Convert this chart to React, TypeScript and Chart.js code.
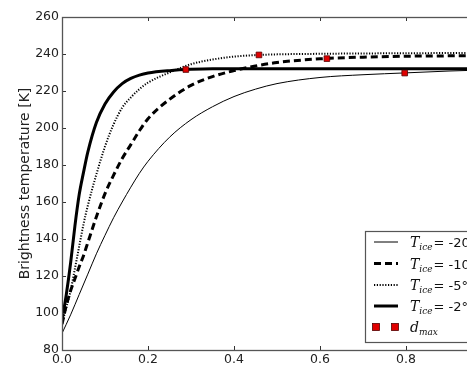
import React, { useEffect, useRef } from "react";
import { Chart, registerables } from "chart.js";
Chart.register(...registerables);

// T_ice = -20 °C (thin solid)
const thinX = [0, 0.02, 0.04, 0.06, 0.08, 0.1, 0.12, 0.14, 0.16, 0.18, 0.2, 0.25, 0.3, 0.35, 0.4, 0.45, 0.5, 0.6, 0.7, 0.8, 0.9, 1.0];
const thinY = [89, 99, 110, 121, 132, 142, 151.5, 160, 168, 175.5, 182, 195, 204.5, 211.5, 217, 221, 224, 227.3, 228.8, 229.8, 230.8, 231.5];
// T_ice = -10 °C (dashed)
const dashedX = [0, 0.01, 0.02, 0.03, 0.04, 0.05, 0.06, 0.08, 0.1, 0.12, 0.14, 0.16, 0.18, 0.2, 0.25, 0.3, 0.35, 0.4, 0.45, 0.5, 0.6, 0.7, 0.8, 0.9, 1.0];
const dashedY = [94, 104, 112, 118.5, 125, 131, 138, 152, 164.5, 174.5, 183.5, 191, 198.5, 205, 215.5, 223, 227.8, 231, 233.5, 235.4, 237.4, 238.3, 238.8, 239, 239.2];
// T_ice = -5 °C (dotted)
const dottedX = [0, 0.01, 0.02, 0.03, 0.04, 0.05, 0.06, 0.08, 0.1, 0.12, 0.14, 0.16, 0.18, 0.2, 0.25, 0.3, 0.35, 0.4, 0.45, 0.5, 0.6, 0.7, 0.8, 0.9, 1.0];
const dottedY = [94, 103, 112, 124, 136, 148, 158, 175, 190, 202, 211, 216.5, 221, 224.5, 230, 234.5, 237, 238.6, 239.4, 239.8, 240.1, 240.3, 240.4, 240.5, 240.5];
// T_ice = -2 °C (thick solid)
const thickX = [0, 0.01, 0.02, 0.03, 0.04, 0.05, 0.06, 0.08, 0.1, 0.12, 0.14, 0.16, 0.18, 0.2, 0.25, 0.3, 0.35, 0.4, 0.5, 0.6, 0.7, 0.8, 0.9, 1.0];
const thickY = [96, 110, 127, 147, 164, 176, 187, 203, 213, 219.5, 224, 226.8, 228.6, 229.7, 231, 231.7, 232, 232, 232, 232, 232, 232, 232, 232];
// d_max markers
const dmaxX = [0.288, 0.458, 0.616, 0.797];
const dmaxY = [231.6, 239.5, 237.5, 229.7];

const tempLabels = ["-20", "-10", "-5", "-2"];
const yTicks = [80, 100, 120, 140, 160, 180, 200, 220, 240, 260];
const xTicks = [0, 0.2, 0.4, 0.6, 0.8, 1.0];

const pts = (xs: number[], ys: number[]) => xs.map((x, i) => ({ x, y: ys[i] }));

const lineStyles = [
  { width: 1, dash: [] as number[] },
  { width: 3, dash: [7, 4] },
  { width: 2, dash: [1.2, 1.6] },
  { width: 3, dash: [] as number[] },
];

const framePlugin = {
  id: "frame",
  afterDatasetsDraw(chart: any) {
    const { ctx, chartArea: a, scales } = chart;
    ctx.save();
    ctx.strokeStyle = "#333";
    ctx.lineWidth = 1;
    const tl = 4;
    ctx.beginPath();
    for (const v of xTicks) {
      const px = Math.round(scales.x.getPixelForValue(v)) + 0.5;
      ctx.moveTo(px, a.bottom);
      ctx.lineTo(px, a.bottom - tl);
      ctx.moveTo(px, a.top);
      ctx.lineTo(px, a.top + tl);
    }
    for (const v of yTicks) {
      const py = Math.round(scales.y.getPixelForValue(v)) + 0.5;
      ctx.moveTo(a.left, py);
      ctx.lineTo(a.left + tl, py);
      ctx.moveTo(a.right, py);
      ctx.lineTo(a.right - tl, py);
    }
    ctx.stroke();
    ctx.strokeStyle = "#555";
    ctx.lineWidth = 1.3;
    ctx.strokeRect(Math.round(a.left) + 0.5, Math.round(a.top) + 0.5, Math.round(a.right - a.left), Math.round(a.bottom - a.top));
    ctx.restore();
  },
  afterDraw(chart: any) {
    const { ctx } = chart;
    const bx = 365, by = 231, bw = 200, bh = 111;
    ctx.save();
    ctx.fillStyle = "#fff";
    ctx.fillRect(bx, by, bw, bh);
    ctx.strokeStyle = "#555";
    ctx.lineWidth = 1.2;
    ctx.strokeRect(bx + 0.5, by + 0.5, bw, bh);
    const rowY = [242, 263.5, 285, 306, 327];
    ctx.textBaseline = "alphabetic";
    ctx.fillStyle = "#111";
    for (let i = 0; i < 4; i++) {
      const y = rowY[i];
      const st = lineStyles[i];
      ctx.beginPath();
      ctx.strokeStyle = "#000";
      ctx.lineWidth = st.width;
      ctx.setLineDash(st.dash);
      ctx.moveTo(374, y);
      ctx.lineTo(398, y);
      ctx.stroke();
      ctx.setLineDash([]);
      let tx = 410;
      ctx.font = "italic 14px 'DejaVu Serif'";
      ctx.fillText("T", tx, y + 5);
      tx += ctx.measureText("T").width;
      ctx.font = "italic 9px 'DejaVu Serif'";
      ctx.fillText("ice", tx, y + 8);
      tx += ctx.measureText("ice").width + 1;
      ctx.font = "13px 'DejaVu Sans'";
      ctx.fillText("= " + tempLabels[i] + "°C", tx, y + 5);
    }
    const y5 = rowY[4];
    for (const mx of [376, 395]) {
      ctx.fillStyle = "#e00000";
      ctx.fillRect(mx - 3.5, y5 - 3.5, 7, 7);
      ctx.strokeStyle = "#500";
      ctx.lineWidth = 0.8;
      ctx.strokeRect(mx - 3.5, y5 - 3.5, 7, 7);
    }
    ctx.fillStyle = "#111";
    let tx = 410;
    ctx.font = "italic 14px 'DejaVu Serif'";
    ctx.fillText("d", tx, y5 + 5);
    tx += ctx.measureText("d").width;
    ctx.font = "italic 9px 'DejaVu Serif'";
    ctx.fillText("max", tx, y5 + 8);
    ctx.restore();
  },
};

export default function App() {
  const ref = useRef<HTMLCanvasElement | null>(null);
  useEffect(() => {
    if (!ref.current) return;
    const mk = (label: string, xs: number[], ys: number[], i: number) => ({
      label,
      data: pts(xs, ys),
      borderColor: "#000",
      borderWidth: lineStyles[i].width,
      borderDash: lineStyles[i].dash,
      borderCapStyle: "butt",
      pointRadius: 0,
      fill: false,
      cubicInterpolationMode: "monotone",
    });
    const chart = new Chart(ref.current, {
      type: "line",
      data: {
        datasets: [
          {
            label: "d_max",
            data: pts(dmaxX, dmaxY),
            showLine: false,
            pointStyle: "rect",
            pointRadius: 4,
            pointBackgroundColor: "#e00000",
            pointBorderColor: "#500",
            pointBorderWidth: 0.8,
          } as any,
          mk("T_ice = -20", thinX, thinY, 0),
          mk("T_ice = -10", dashedX, dashedY, 1),
          mk("T_ice = -5", dottedX, dottedY, 2),
          mk("T_ice = -2", thickX, thickY, 3),
        ],
      },
      options: {
        animation: false,
        responsive: false,
        layout: { padding: { left: 0, top: 17, right: 68, bottom: 0 } },
        plugins: { legend: { display: false }, tooltip: { enabled: false } },
        scales: {
          x: {
            type: "linear",
            min: 0,
            max: 1,
            grid: { display: false, drawTicks: false, tickLength: 0 },
            border: { display: false },
            afterBuildTicks: (s: any) => { s.ticks = xTicks.map((v) => ({ value: v })); },
            afterFit: (s: any) => { s.height = 18; },
            ticks: {
              padding: 2,
              color: "#222",
              font: { family: "'DejaVu Sans'", size: 12.5 },
              callback: (v: any) => Number(v).toFixed(1),
            },
          },
          y: {
            type: "linear",
            min: 80,
            max: 260,
            grid: { display: false, drawTicks: false, tickLength: 0 },
            border: { display: false },
            afterBuildTicks: (s: any) => { s.ticks = yTicks.map((v) => ({ value: v })); },
            afterFit: (s: any) => { s.width = 62; },
            title: {
              display: true,
              text: "Brightness temperature [K]",
              color: "#222",
              font: { family: "'DejaVu Sans'", size: 14 },
              padding: { top: 16.5, bottom: 0 },
            },
            ticks: {
              padding: 3,
              color: "#222",
              font: { family: "'DejaVu Sans'", size: 12.5 },
            },
          },
        },
      },
      plugins: [framePlugin],
    } as any);
    return () => chart.destroy();
  }, []);
  return (
    <div style={{ position: "fixed", left: 0, top: 0, width: 467, height: 368, overflow: "hidden", background: "#fff" }}>
      <canvas ref={ref} width={560} height={368} style={{ display: "block" }} />
    </div>
  );
}
